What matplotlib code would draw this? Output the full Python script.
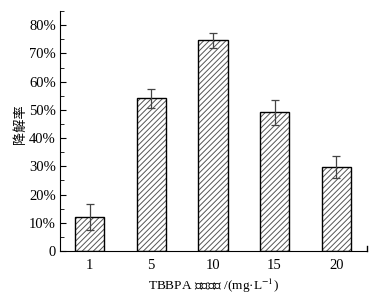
import matplotlib
matplotlib.use("Agg")
import matplotlib.pyplot as plt
from matplotlib.ticker import MultipleLocator, FuncFormatter

categories = ["1", "5", "10", "15", "20"]
values = [11.9, 54.1, 74.6, 49.1, 29.8]
errors = [4.6, 3.4, 2.8, 4.4, 3.8]

plt.rcParams['font.family'] = ['Liberation Serif', 'Noto Sans CJK SC']
plt.rcParams['mathtext.fontset'] = 'stix'
plt.rcParams['hatch.linewidth'] = 0.7

fig = plt.figure(figsize=(3.75, 2.99), dpi=100)
ax = fig.add_axes([0.16, 0.1605, 0.8187, 0.8025])

x = list(range(len(categories)))
ax.bar(x, values, width=0.475, color='white', edgecolor='#555555', hatch='//////', linewidth=0, zorder=2)
ax.bar(x, values, width=0.475, fill=False, edgecolor='black', linewidth=1.0, zorder=3)
ax.errorbar(x, values, yerr=errors, fmt='none', ecolor='#444444', elinewidth=0.9, capsize=3, capthick=0.9, zorder=4)

ax.set_xlim(-0.48, 4.5)
ax.set_ylim(0, 85)
ax.set_xticks(x)
ax.set_xticklabels(categories)
ax.yaxis.set_major_locator(MultipleLocator(10))
ax.yaxis.set_minor_locator(MultipleLocator(5))
ax.yaxis.set_major_formatter(FuncFormatter(lambda v, p: "0" if v == 0 else f"{int(v)}%"))

for s in ['top', 'right']:
    ax.spines[s].set_visible(False)
ax.tick_params(axis='y', which='both', direction='in', labelsize=10.5, pad=3)
ax.tick_params(axis='y', which='major', length=4)
ax.tick_params(axis='y', which='minor', length=3)
ax.tick_params(axis='x', length=0, labelsize=10.5, pad=6)
ax.axvline(4.5, ymin=0, ymax=0.02, color='black', linewidth=1, clip_on=False)

ax.set_ylabel("降解率", family=['Noto Sans CJK SC'], fontsize=9.5, labelpad=1)
ax.yaxis.set_label_coords(-0.108, 0.53)
ax.set_xlabel("TBBPA 初始浓度 /(mg·L$^{-1}$)", family=['Liberation Serif', 'Noto Sans CJK SC'], fontsize=9.5, labelpad=3)

fig.savefig("out.png", dpi=100)
